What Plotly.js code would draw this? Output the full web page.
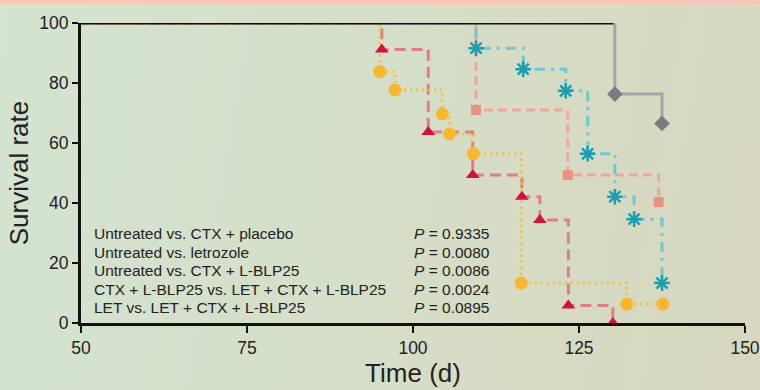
<!DOCTYPE html>
<html>
<head>
<meta charset="utf-8">
<script src="https://cdn.plot.ly/plotly-3.0.1.min.js"></script>
<style>
  html, body { margin: 0; padding: 0; }
  body {
    width: 760px; height: 390px; overflow: hidden; position: relative;
    background: linear-gradient(100deg, #d3e4d0 0%, #d5dfc9 45%, #d8d7bf 100%);
  }
  #strip { position: absolute; left: 0; top: 0; width: 760px; height: 7px;
    background: linear-gradient(to bottom, #f8c5b7 0px, #f8c5b7 3px, #e3dcc8 5px, rgba(0,0,0,0) 7px); }
  #chart { position: absolute; left: 0; top: 0; width: 760px; height: 390px; }
</style>
</head>
<body>
<div id="strip"></div>
<div id="chart"></div>
<script>
// ---- Data (time in days, survival in %) ----
const untreatedTime = [50, 130.4, 137.5];
const untreatedSurv = [100, 76.3, 66.5];

const redTime = [95.3, 102.3, 109.0, 116.4, 119.1, 123.4, 130.1];
const redSurv = [91.2, 63.7, 49.3, 42.1, 34.3, 5.8, 0];

const yellowTime = [95.0, 97.3, 104.4, 105.5, 109.1, 116.3, 132.2, 137.6];
const yellowSurv = [83.8, 77.7, 69.7, 63.0, 56.4, 13.3, 6.3, 6.3];

const salmonTime = [109.5, 123.3, 137.0];
const salmonSurv = [71.0, 49.3, 40.3];

const cyanTime = [109.5, 116.6, 123.0, 126.3, 130.4, 133.3, 137.5];
const cyanSurv = [91.6, 84.6, 77.4, 56.4, 42.1, 34.6, 13.3];

const comparisons = [
  "Untreated vs. CTX + placebo",
  "Untreated vs. letrozole",
  "Untreated vs. CTX + L-BLP25",
  "CTX + L-BLP25 vs. LET + CTX + L-BLP25",
  "LET vs. LET + CTX + L-BLP25"
];
const pValues = ["0.9335", "0.0080", "0.0086", "0.0024", "0.0895"];
const textRowsY = [29.8, 23.6, 17.5, 11.3, 5.1];

const xTicks = [50, 75, 100, 125, 150];
const yTicks = [0, 20, 40, 60, 80, 100];

const FONT = "Liberation Sans, Arial, Helvetica, sans-serif";

function kmLine(times, surv, line) {
  return {
    x: [50].concat(times), y: [100].concat(surv),
    mode: "lines", line: Object.assign({shape: "hv"}, line),
    hoverinfo: "skip", showlegend: false, cliponaxis: false
  };
}
function kmMarkers(times, surv, marker) {
  return {
    x: times, y: surv, mode: "markers", marker: marker,
    hoverinfo: "skip", showlegend: false, cliponaxis: false
  };
}

const traces = [
  kmLine(salmonTime, salmonSurv, {color: "#efa79d", width: 3, dash: "9px,5px"}),
  kmLine(cyanTime, cyanSurv, {color: "#6ec8d6", width: 3, dash: "10px,6px,3px,6px"}),
  kmLine(redTime, redSurv, {color: "#e07d86", width: 3, dash: "11px,6px"}),
  kmLine(yellowTime, yellowSurv, {color: "#f0c23e", width: 3, dash: "2px,4px"}),
  // untreated: black at 100 until the first death, then grey steps
  {
    x: [untreatedTime[0], untreatedTime[1]], y: [untreatedSurv[0], untreatedSurv[0]],
    mode: "lines", line: {color: "#111111", width: 3},
    hoverinfo: "skip", showlegend: false, cliponaxis: false
  },
  {
    x: [untreatedTime[1]].concat(untreatedTime.slice(1)),
    y: [untreatedSurv[0]].concat(untreatedSurv.slice(1)),
    mode: "lines", line: {color: "#a3a5aa", width: 3, shape: "hv"},
    hoverinfo: "skip", showlegend: false, cliponaxis: false
  },
  kmMarkers(untreatedTime.slice(1), untreatedSurv.slice(1),
    {symbol: "diamond", size: 12, color: "#7b7b7e"}),
  kmMarkers(salmonTime, salmonSurv, {symbol: "square", size: 10, color: "#e8927f"}),
  kmMarkers(cyanTime, cyanSurv,
    {symbol: "asterisk-open", size: 13, color: "#1a9eb0", line: {color: "#1a9eb0", width: 2.5}}),
  kmMarkers(redTime, redSurv, {symbol: "triangle-up", size: 12, color: "#d2123e"}),
  kmMarkers(yellowTime, yellowSurv, {symbol: "circle", size: 13, color: "#f7b731"})
];

const annotations = [];
comparisons.forEach((c, i) => {
  annotations.push({
    x: 51.6, y: textRowsY[i], xref: "x", yref: "y", text: c,
    showarrow: false, xanchor: "left", yanchor: "middle",
    font: {family: FONT, size: 15.5, color: "#222222"}
  });
  annotations.push({
    x: 99.9, y: textRowsY[i], xref: "x", yref: "y",
    text: "<i>P</i> = " + pValues[i],
    showarrow: false, xanchor: "left", yanchor: "middle",
    font: {family: FONT, size: 15.5, color: "#222222"}
  });
});

const layout = {
  width: 760, height: 390,
  margin: {l: 81, r: 15, t: 23, b: 67},
  paper_bgcolor: "rgba(0,0,0,0)",
  plot_bgcolor: "rgba(0,0,0,0)",
  font: {family: FONT, color: "#222222"},
  showlegend: false,
  xaxis: {
    range: [50, 150], tickvals: xTicks, ticktext: xTicks.map(String),
    showgrid: false, zeroline: false, showline: true, linecolor: "#111111", linewidth: 3,
    ticks: "outside", ticklen: 7, tickwidth: 2.5, tickcolor: "#111111",
    tickfont: {family: FONT, size: 17.5, color: "#222222"},
    title: {text: "Time (d)", font: {family: FONT, size: 26, color: "#222222"}, standoff: 5},
    automargin: false, fixedrange: true
  },
  yaxis: {
    range: [0, 100], tickvals: yTicks, ticktext: yTicks.map(String),
    showgrid: false, zeroline: false, showline: true, linecolor: "#111111", linewidth: 3,
    ticks: "outside", ticklen: 6, tickwidth: 2.5, tickcolor: "#111111",
    tickfont: {family: FONT, size: 17.5, color: "#222222"},
    title: {text: "Survival rate", font: {family: FONT, size: 26, color: "#222222"}, standoff: 4},
    automargin: false, fixedrange: true
  },
  annotations: annotations
};

Plotly.newPlot("chart", traces, layout, {displayModeBar: false, staticPlot: true});
</script>
</body>
</html>
